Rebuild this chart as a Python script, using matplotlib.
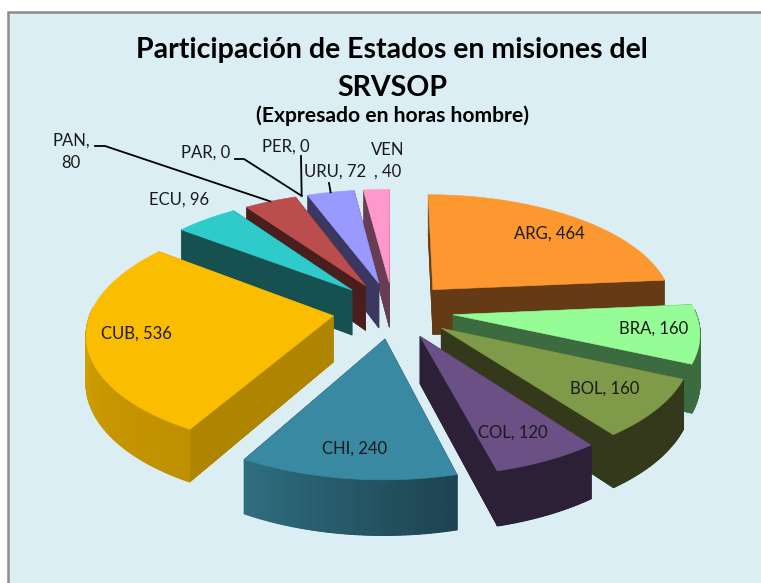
import numpy as np
import matplotlib
matplotlib.use('Agg')
import matplotlib.pyplot as plt
from matplotlib.colors import to_rgb

# Datos (horas hombre)
estados = ['ARG', 'BRA', 'BOL', 'COL', 'CHI', 'CUB', 'ECU', 'PAN', 'PAR', 'PER', 'URU', 'VEN']
horas = [464, 160, 160, 120, 240, 536, 96, 80, 0, 0, 72, 40]

titulo = 'Participación de Estados en misiones del\nSRVSOP'
subtitulo = '(Expresado en horas hombre)'

# Colores: cara superior, paredes, borde curvo (inicio y fin del arco)
color_cara = ['#FD9830', '#96FD96', '#7F9A48', '#6A5084', '#3A89A3', '#FBBD00',
              '#2FCBCB', '#BC4D4D', '#BC4D4D', '#BC4D4D', '#9999FF', '#FF99CC']
color_pared = ['#643B14', '#3D6B40', '#35391C', '#2B2035', '#1C4350', '#AF8500',
               '#175050', '#4B1E1E', '#4B1E1E', '#4B1E1E', '#3A3860', '#663D52']
borde_ini = ['#643B14', '#3D6B40', '#35391C', '#2B2035', '#1E4350', '#BF9000',
             '#175050', '#4B1E1E', '#4B1E1E', '#4B1E1E', '#3A3860', '#663D52']
borde_fin = ['#643B14', '#3D6B40', '#35391C', '#2B2035', '#2F6E80', '#DDAA00',
             '#175050', '#4B1E1E', '#4B1E1E', '#4B1E1E', '#3A3860', '#663D52']

# Camara (perspectiva) en pixeles
cx, cy = 393, 310
esc_x, esc_y = 242, 113
persp = 0.136
grosor = 46
explosion = 0.25


def proyectar(x, y, abajo=False):
    x = np.asarray(x, dtype=float)
    y = np.asarray(y, dtype=float)
    w = 1 + persp * y
    px = cx + esc_x * x / w
    py = cy - esc_y * y / w
    if abajo:
        py = py + grosor / w
    return px, py


def pared(x, y, color, lw=0.4):
    # x, y son dos o mas puntos del plano, rellena la banda hasta la base
    px, py = proyectar(x, y)
    qx, qy = proyectar(x, y, abajo=True)
    ax.fill(np.r_[px, qx[::-1]], np.r_[py, qy[::-1]], color=color, lw=lw)


fig = plt.figure(figsize=(7.61, 5.83), dpi=100)
ax = fig.add_axes([0, 0, 1, 1])
ax.set_xlim(0, 761)
ax.set_ylim(583, 0)
ax.axis('off')

# Fondo del grafico con su marco gris
ax.fill([8, 770, 770, 8], [12, 12, 600, 600], facecolor='#DBEEF4', edgecolor='#8C8C8C', lw=1.8)

total = sum(horas)
acum = np.cumsum([0] + horas) / total * 360
medio = np.radians((acum[:-1] + acum[1:]) / 2)
ini = np.radians(acum[:-1])
fin = np.radians(acum[1:])

# De atras hacia adelante
orden = np.argsort(-np.cos(medio))
for i in orden:
    if horas[i] == 0:
        continue
    ox = explosion * np.sin(medio[i])
    oy = explosion * np.cos(medio[i])
    t = np.linspace(ini[i], fin[i], 60)
    arco_x = ox + np.sin(t)
    arco_y = oy + np.cos(t)
    forma_x = np.r_[ox, arco_x]
    forma_y = np.r_[oy, arco_y]

    # base
    qx, qy = proyectar(forma_x, forma_y, abajo=True)
    ax.fill(qx, qy, color=color_pared[i], lw=0.4)
    # paredes rectas
    pared([ox, arco_x[-1]], [oy, arco_y[-1]], color_pared[i])
    pared([ox, arco_x[0]], [oy, arco_y[0]], color_pared[i])
    # borde curvo con degradado, solo la parte que mira al frente
    c0 = np.array(to_rgb(borde_ini[i]))
    c1 = np.array(to_rgb(borde_fin[i]))
    for k in range(len(t) - 1):
        if np.cos(t[k]) > 0.05:
            continue
        f = k / (len(t) - 2)
        pared(arco_x[k:k + 2], arco_y[k:k + 2], tuple(c0 + (c1 - c0) * f), lw=1.0)
    # cara superior
    px, py = proyectar(forma_x, forma_y)
    ax.fill(px, py, color=color_cara[i], lw=0.4)

fuente = 'Lato'
ax.text(392, 69, titulo, ha='center', va='center', fontsize=20.5, fontweight='bold',
        family=fuente, color='black', linespacing=1.58)
ax.text(392, 116, subtitulo, ha='center', va='center', fontsize=15.2, fontweight='bold',
        family=fuente, color='black')

# Etiquetas
texto = ['ARG, 464', 'BRA, 160', 'BOL, 160', 'COL, 120', 'CHI, 240', 'CUB, 536', 'ECU, 96',
         'PAN,\n80', 'PAR, 0', 'PER, 0', 'URU, 72', 'VEN\n, 40']
pos_x = [549, 654, 605, 513, 355, 136, 179, 71, 206, 286, 335, 388]
pos_y = [234, 329, 389, 433, 449, 334, 200, 152, 153, 147, 172, 161]
for k in range(len(texto)):
    ax.text(pos_x[k], pos_y[k], texto[k], ha='center', va='center', fontsize=12,
            family=fuente, color='#1a1a1a', linespacing=1.45)

# Lineas guia hasta el borde de cada sector
guias = {'PAN': [(95, 146), (105, 146)], 'PAR': [(235, 159), (244, 159)],
         'PER': [(301, 156)], 'URU': [(329, 183)]}
for nombre, puntos in guias.items():
    i = estados.index(nombre)
    ox = explosion * np.sin(medio[i])
    oy = explosion * np.cos(medio[i])
    ex, ey = proyectar(ox + np.sin(medio[i]), oy + np.cos(medio[i]))
    xs = [p[0] for p in puntos] + [float(ex)]
    ys = [p[1] for p in puntos] + [float(ey)]
    ax.plot(xs, ys, color='black', lw=1.3)

fig.savefig('out.png', dpi=100)
